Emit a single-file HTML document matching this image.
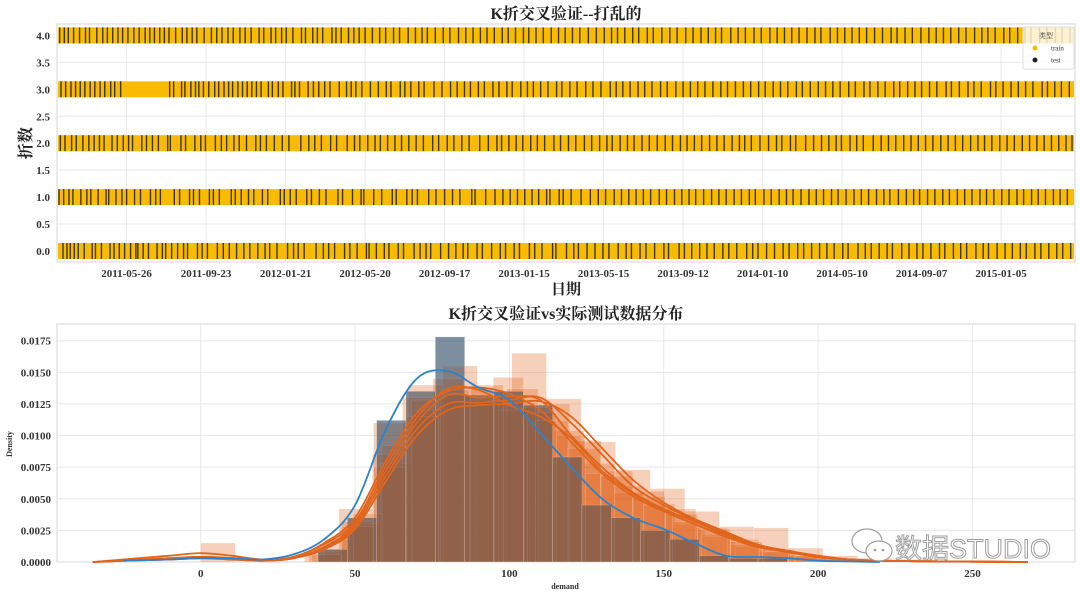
<!DOCTYPE html>
<html><head><meta charset="utf-8">
<style>
html,body{margin:0;padding:0;background:#fff;}
svg{display:block;font-family:"Liberation Serif","Noto Serif CJK SC",serif;}
</style></head>
<body>
<svg id="chart" width="1080" height="597" viewBox="0 0 1080 597" xmlns="http://www.w3.org/2000/svg">
  <rect x="0" y="0" width="1080" height="597" fill="#fff"/>
  <g id="top"></g>
  <g id="bottom"></g>
</svg>
<script>
// ---------- top chart data ----------
const foldIds = [0, 1, 2, 3, 4];
const dateTickLabels = ["2011-05-26","2011-09-23","2012-01-21","2012-05-20","2012-09-17","2013-01-15","2013-05-15","2013-09-12","2014-01-10","2014-05-10","2014-09-07","2015-01-05"];
const dateTickDays = [105,225,345,465,585,705,825,945,1065,1185,1305,1425]; // days since 2011-02-10
const yTickLabelsTop = ["0.0","0.5","1.0","1.5","2.0","2.5","3.0","3.5","4.0"];
const testFold0 = [8,14,19,25,31,40,52,57,66,79,85,93,101,110,118,121,129,137,150,158,163,172,181,190,196,211,218,226,241,250,259,270,281,290,302,313,320,331,347,356,363,372,390,401,409,418,433,441,452,466,470,481,493,500,514,522,538,547,556,563,578,590,601,612,619,633,641,655,668,676,689,697,712,720,731,747,752,768,779,786,799,811,823,832,846,858,866,879,888,901,915,922,938,946,957,969,980,991,1004,1013,1025,1040,1049,1057,1070,1082,1095,1104,1117,1126,1138,1150,1161,1172,1185,1193,1208,1219,1228,1240,1252,1260,1274,1285,1297,1306,1318,1331,1339,1352,1363,1372,1386,1397,1405,1418,1430,1441,1453,1462,1475,1484,1496,1508,1517,1529];
const testFold1 = [2,9,17,23,35,44,50,61,73,77,88,97,104,116,125,140,148,155,176,184,199,205,214,229,235,244,262,268,277,288,296,309,317,336,342,351,360,376,383,395,405,423,430,445,458,462,477,489,505,511,527,535,543,560,571,584,596,607,625,630,646,660,672,683,694,705,716,726,738,743,757,763,775,790,804,816,827,840,851,862,873,884,895,908,919,931,942,953,963,975,987,998,1009,1021,1032,1044,1053,1066,1077,1089,1100,1110,1122,1134,1145,1156,1168,1178,1190,1202,1213,1224,1236,1247,1256,1269,1281,1292,1301,1313,1324,1336,1346,1358,1369,1380,1392,1402,1413,1425,1436,1448,1458,1470,1480,1491,1503,1513,1524];
const testFold2 = [4,11,21,28,38,47,55,63,70,82,90,99,107,113,127,134,143,152,166,170,186,193,207,216,223,238,247,255,266,274,285,299,306,315,327,339,349,367,379,388,398,412,421,437,448,456,468,479,487,498,509,519,530,541,552,566,575,588,598,610,621,637,650,663,670,681,692,702,714,724,735,749,759,771,782,795,806,818,829,837,849,860,870,882,893,905,917,928,940,950,961,972,984,995,1006,1018,1029,1037,1047,1060,1073,1085,1093,1106,1114,1129,1141,1153,1164,1175,1183,1196,1206,1216,1231,1243,1254,1265,1277,1288,1299,1310,1321,1333,1344,1355,1366,1378,1389,1399,1410,1422,1433,1444,1456,1467,1478,1489,1500,1511,1522,1531];
const testFold3 = [5,12,20,27,34,41,49,56,64,71,80,86,95,169,175,187,192,201,208,213,220,228,237,243,251,258,264,272,279,286,293,300,307,318,324,333,340,353,358,365,378,386,394,403,411,425,436,443,450,459,472,484,496,503,517,524,533,545,553,568,580,593,603,614,623,635,644,657,666,678,686,699,709,718,729,740,753,761,773,784,797,808,820,834,843,853,864,876,886,897,910,920,933,944,955,966,977,989,1001,1011,1023,1035,1046,1058,1068,1080,1091,1102,1115,1124,1136,1148,1159,1170,1181,1194,1204,1217,1226,1238,1249,1262,1271,1283,1294,1304,1316,1327,1341,1349,1361,1374,1383,1394,1408,1416,1427,1439,1450,1461,1472,1486,1494,1505,1515,1527];
const testFold4 = [3,10,16,24,33,42,48,59,68,75,83,91,98,106,115,123,132,139,146,154,161,168,178,188,195,203,210,221,232,240,248,257,265,275,283,292,304,311,322,329,338,345,355,368,374,385,392,400,414,420,428,439,447,455,464,475,486,495,507,516,529,540,550,558,570,582,592,605,616,627,638,648,659,671,680,691,703,711,722,733,745,756,766,777,788,801,813,825,836,845,856,868,877,890,899,912,924,935,948,959,971,982,993,1002,1016,1027,1038,1051,1062,1075,1086,1097,1108,1119,1131,1143,1152,1166,1177,1188,1199,1210,1221,1233,1245,1258,1267,1279,1290,1303,1315,1326,1337,1348,1360,1371,1384,1395,1404,1415,1428,1437,1449,1460,1469,1482,1493,1506,1516,1528];
const testFolds = [testFold0, testFold1, testFold2, testFold3, testFold4];

// ---------- bottom chart data ----------
const xTickValues = [0,50,100,150,200,250];
const yTickValuesBottom = [0,0.0025,0.005,0.0075,0.01,0.0125,0.015,0.0175];
const yTickLabelsBottom = ["0.0000","0.0025","0.0050","0.0075","0.0100","0.0125","0.0150","0.0175"];
const blueHistStart = 38, blueHistWidth = 9.5;
const blueHist = [0.001,0.0035,0.0112,0.0135,0.0178,0.0132,0.0135,0.0124,0.0083,0.0045,0.0035,0.0025,0.0018,0.0005,0.0003,0.0003];
const orangeHistStarts = [0,36,38,40,35];
const orangeHistWidths = [11.2,9.8,10.2,9.4,10.5];
const orangeHist1 = [0.0015,0,0,0.0006,0.0042,0.0110,0.0140,0.0155,0.0135,0.0165,0.0129,0.0095,0.0073,0.0058,0.0040,0.0028,0.0027,0.0011,0.0005,0.0003,0.0002];
const orangeHist2 = [0.0008,0.0032,0.0085,0.0130,0.0145,0.0138,0.0146,0.0122,0.0104,0.0078,0.0060,0.0046,0.0030,0.0020,0.0012,0.0008,0.0004,0.0002];
const orangeHist3 = [0.0010,0.0030,0.0078,0.0120,0.0133,0.0130,0.0137,0.0125,0.0096,0.0072,0.0056,0.0042,0.0027,0.0018,0.0010,0.0006,0.0003,0.0001];
const orangeHist4 = [0.0018,0.0038,0.0092,0.0128,0.0136,0.0128,0.0120,0.0118,0.0100,0.0070,0.0055,0.0045,0.0032,0.0022,0.0014,0.0008,0.0005,0.0003,0.0001];
const orangeHist5 = [0.0006,0.0028,0.0075,0.0115,0.0132,0.0140,0.0126,0.0112,0.0090,0.0068,0.0052,0.0038,0.0026,0.0016,0.0010,0.0005,0.0003,0.0001];
const orangeHists = [orangeHist1, orangeHist2, orangeHist3, orangeHist4, orangeHist5];
const kdeX = [-35,-25,-10,0,10,20,30,40,50,60,70,80,90,100,110,120,130,140,150,160,170,180,190,200,210,220,240,268];
const kdeBlue = [0,0.0001,0.0002,0.0003,0.0003,0.0002,0.0006,0.0018,0.0045,0.0105,0.0145,0.0151,0.0138,0.0128,0.0102,0.0075,0.0050,0.0035,0.0026,0.0015,0.0005,0.0004,0.0003,0.0001,0.00005,0,0,0];
const kdeOrange1 = [0,0.0002,0.0005,0.0007,0.0005,0.0002,0.0004,0.0015,0.0035,0.0080,0.0118,0.0135,0.0138,0.0133,0.0120,0.0095,0.0070,0.0052,0.0040,0.0030,0.0020,0.0012,0.0008,0.0004,0.0002,0.0001,0.00005,0];
const kdeOrange2 = [0,0.0001,0.0003,0.0004,0.0003,0.0001,0.0003,0.0012,0.0030,0.0072,0.0110,0.0132,0.0130,0.0131,0.0128,0.0100,0.0075,0.0055,0.0042,0.0032,0.0022,0.0014,0.0008,0.0004,0.0002,0.0001,0.00005,0];
const kdeOrange3 = [0,0.0001,0.0002,0.0003,0.0002,0.0001,0.0003,0.0011,0.0028,0.0068,0.0105,0.0125,0.0126,0.0128,0.0130,0.0110,0.0085,0.0060,0.0045,0.0033,0.0023,0.0013,0.0009,0.0004,0.0002,0.0001,0.00005,0];
const kdeOrange4 = [0,0.0001,0.0003,0.0004,0.0003,0.0001,0.0004,0.0014,0.0032,0.0076,0.0114,0.0137,0.0136,0.0124,0.0115,0.0098,0.0072,0.0054,0.0041,0.0030,0.0021,0.0013,0.0008,0.0004,0.0002,0.0001,0.00005,0];
const kdeOrange5 = [0,0.0001,0.0002,0.0003,0.0002,0.0001,0.0003,0.0010,0.0026,0.0064,0.0100,0.0120,0.0124,0.0125,0.0127,0.0115,0.0090,0.0065,0.0047,0.0034,0.0024,0.0014,0.0009,0.0005,0.0002,0.0001,0.00005,0];
const kdeOranges = [kdeOrange1, kdeOrange2, kdeOrange3, kdeOrange4, kdeOrange5];

const NS = "http://www.w3.org/2000/svg";
function mk(parent, tag, attrs, text) {
  const e = document.createElementNS(NS, tag);
  for (const k in attrs) e.setAttribute(k, attrs[k]);
  if (text !== undefined) e.textContent = text;
  parent.appendChild(e);
  return e;
}

// ---------- top chart ----------
(function(){
  const g = document.getElementById('top');
  const L = 57, R = 1075, T = 24, B = 262;
  const dayPx = 79.5 / 120;
  const xDay = d => L + d * dayPx;
  const yFold = v => 251 - v * 53.9;
  const frame = mk(g, 'rect', {x:L, y:T, width:R-L, height:B-T, fill:'#fff', stroke:'#e3e3e3', 'stroke-width':1.5});
  
  
  yTickLabelsTop.forEach((lab) => {
    const v = parseFloat(lab);
    const gl = mk(g, 'line', {x1:L, x2:R, y1:yFold(v), y2:yFold(v), stroke:'#e8e8e8', 'stroke-width':1});
    
    
    const t = mk(g, 'text', {x:50, y:yFold(v)+4, 'text-anchor':'end', 'font-size':11, 'font-weight':'bold', fill:'#333'}, lab);
    
    
  });
  dateTickDays.forEach((d, i) => {
    const gl = mk(g, 'line', {x1:xDay(d), x2:xDay(d), y1:T, y2:B, stroke:'#e8e8e8', 'stroke-width':1});
    
    
    const t = mk(g, 'text', {x:xDay(d), y:277, 'text-anchor':'middle', 'font-size':11, 'font-weight':'bold', fill:'#333'}, dateTickLabels[i]);
    
    
  });
  foldIds.forEach((f, i) => {
    const band = mk(g, 'rect', {x:L+1, y:yFold(f)-8, width:R-L-2, height:16, fill:'#f8bb00'});
    
    
    testFolds[i].forEach(d => {
      const ln = mk(g, 'rect', {x:xDay(d), y:yFold(f)-8, width:1.4, height:16, fill:'#1e1e1e', opacity:0.85});
      
      
    });
  });
  const title = mk(g, 'text', {x:566, y:19, 'text-anchor':'middle', 'font-size':16, 'font-weight':'bold', fill:'#222'}, 'K折交叉验证--打乱的');
  
  
  const xl = mk(g, 'text', {x:566, y:294, 'text-anchor':'middle', 'font-size':15, 'font-weight':'bold', fill:'#222'}, '日期');
  
  
  const yl = mk(g, 'text', {x:0, y:0, transform:'translate(31,143) rotate(-90)', 'text-anchor':'middle', 'font-size':16, 'font-weight':'bold', fill:'#222'}, '折数');
  
  
  const lg = mk(g, 'g', {});
  
  
  mk(lg, 'rect', {x:1023, y:27, width:51, height:42, fill:'#fff', 'fill-opacity':0.8, stroke:'#ddd', rx:2});
  const lt = mk(lg, 'text', {x:1046, y:38, 'text-anchor':'middle', 'font-size':7, fill:'#333'}, '类型');
  
  
  const e1 = mk(lg, 'g', {});
  
  
  mk(e1, 'circle', {cx:1035, cy:48, r:2.5, fill:'#f8bb00'});
  mk(e1, 'text', {x:1051, y:50.5, 'font-size':7, fill:'#333'}, 'train');
  const e2 = mk(lg, 'g', {});
  
  
  mk(e2, 'circle', {cx:1035, cy:60, r:2.5, fill:'#222'});
  mk(e2, 'text', {x:1051, y:62.5, 'font-size':7, fill:'#333'}, 'test');
})();

// ---------- bottom chart ----------
(function(){
  const g = document.getElementById('bottom');
  const L = 57, R = 1075, T = 324, B = 562;
  const xv = v => 200.7 + v * 3.087;
  const yv = v => 562 - v * (221.3 / 0.0175);
  const frame = mk(g, 'rect', {x:L, y:T, width:R-L, height:B-T, fill:'#fff', stroke:'#e3e3e3', 'stroke-width':1.5});
  
  
  yTickValuesBottom.forEach((v, i) => {
    const gl = mk(g, 'line', {x1:L, x2:R, y1:yv(v), y2:yv(v), stroke:'#e8e8e8', 'stroke-width':1});
    
    
    const t = mk(g, 'text', {x:51, y:yv(v)+4, 'text-anchor':'end', 'font-size':11, 'font-weight':'bold', fill:'#333'}, yTickLabelsBottom[i]);
    
    
  });
  xTickValues.forEach(v => {
    const gl = mk(g, 'line', {x1:xv(v), x2:xv(v), y1:T, y2:B, stroke:'#e8e8e8', 'stroke-width':1});
    
    
    const t = mk(g, 'text', {x:xv(v), y:577, 'text-anchor':'middle', 'font-size':11, 'font-weight':'bold', fill:'#333'}, String(v));
    
    
  });
  blueHist.forEach((h, i) => {
    const x0 = xv(blueHistStart + i * blueHistWidth), x1 = xv(blueHistStart + (i+1) * blueHistWidth);
    const r = mk(g, 'rect', {x:x0, y:yv(h), width:x1-x0, height:B-yv(h), fill:'#3a87c8', 'fill-opacity':0.4, stroke:'#fff', 'stroke-opacity':0.4, 'stroke-width':0.6});
    
    
  });
  orangeHists.forEach((arr, k) => {
    arr.forEach((h, i) => {
      if (h <= 0) return;
      const x0 = xv(orangeHistStarts[k] + i * orangeHistWidths[k]), x1 = xv(orangeHistStarts[k] + (i+1) * orangeHistWidths[k]);
      const r = mk(g, 'rect', {x:x0, y:yv(h), width:x1-x0, height:B-yv(h), fill:'#e0651d', 'fill-opacity':0.3, stroke:'#fff', 'stroke-opacity':0.3, 'stroke-width':0.6});
      
      
    });
  });
  // overlap tint (blue under orange appears brown-grey)
  blueHist.forEach((h, i) => {
    const x0 = xv(blueHistStart + i * blueHistWidth), x1 = xv(blueHistStart + (i+1) * blueHistWidth);
    const r = mk(g, 'rect', {x:x0, y:yv(h), width:x1-x0, height:B-yv(h), fill:'#4a4e55', 'fill-opacity':0.5, stroke:'#fff', 'stroke-opacity':0.3, 'stroke-width':0.6});
    
    
  });
  function smoothPath(xs, ys) {
    const pts = xs.map((x, i) => [xv(x), yv(ys[i])]);
    let d = 'M' + pts[0][0].toFixed(1) + ',' + pts[0][1].toFixed(1);
    for (let i = 0; i < pts.length - 1; i++) {
      const p0 = pts[Math.max(0, i-1)], p1 = pts[i], p2 = pts[i+1], p3 = pts[Math.min(pts.length-1, i+2)];
      const c1 = [p1[0] + (p2[0]-p0[0])/6, p1[1] + (p2[1]-p0[1])/6];
      const c2 = [p2[0] - (p3[0]-p1[0])/6, p2[1] - (p3[1]-p1[1])/6];
      c1[1] = Math.min(c1[1], B); c2[1] = Math.min(c2[1], B);
      d += ' C' + c1[0].toFixed(1) + ',' + c1[1].toFixed(1) + ' ' + c2[0].toFixed(1) + ',' + c2[1].toFixed(1) + ' ' + p2[0].toFixed(1) + ',' + p2[1].toFixed(1);
    }
    return d;
  }
  kdeOranges.forEach(arr => {
    const p = mk(g, 'path', {d:smoothPath(kdeX, arr), fill:'none', stroke:'#e0651d', 'stroke-width':1.8});
    
    
  });
  const pb = mk(g, 'path', {d:smoothPath(kdeX.slice(1, 26), kdeBlue.slice(1, 26)), fill:'none', stroke:'#2f82c8', 'stroke-width':1.8});
  
  

  const title = mk(g, 'text', {x:566, y:319, 'text-anchor':'middle', 'font-size':16, 'font-weight':'bold', fill:'#222'}, 'K折交叉验证vs实际测试数据分布');
  
  
  const xl = mk(g, 'text', {x:565, y:589, 'text-anchor':'middle', 'font-size':8, 'font-weight':'bold', fill:'#333'}, 'demand');
  
  
  const yl = mk(g, 'text', {x:0, y:0, transform:'translate(12,444) rotate(-90)', 'text-anchor':'middle', 'font-size':8, 'font-weight':'bold', fill:'#333'}, 'Density');
  
  

  const wm = mk(g, 'g', {opacity:0.95});
  
  
  mk(wm, 'ellipse', {cx:867, cy:541, rx:15, ry:12, fill:'#fff', stroke:'#999', 'stroke-width':1.2});
  mk(wm, 'ellipse', {cx:879, cy:551, rx:13, ry:10, fill:'#fff', stroke:'#999', 'stroke-width':1.2});
  mk(wm, 'circle', {cx:875, cy:550, r:1.3, fill:'#999'});
  mk(wm, 'circle', {cx:883, cy:550, r:1.3, fill:'#999'});
  mk(wm, 'text', {x:895, y:558, 'font-size':27, fill:'#fff', stroke:'#9a9a9a', 'stroke-width':1, 'font-family':'"Liberation Sans","Noto Sans CJK SC",sans-serif'}, '数据STUDIO');
})();
</script>
</body></html>
